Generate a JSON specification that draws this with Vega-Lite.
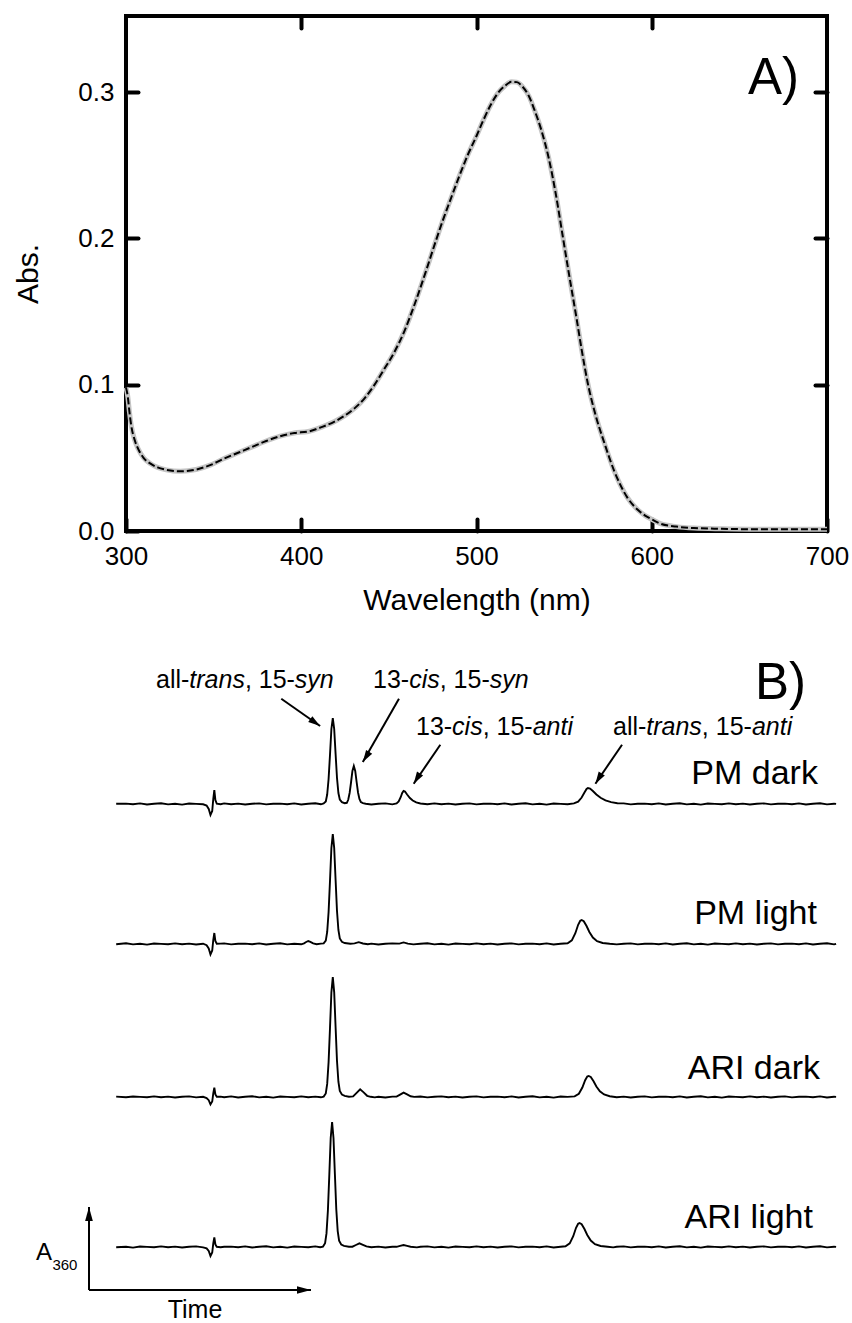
{
  "$schema": "https://vega.github.io/schema/vega-lite/v6.json",
  "padding": {"left": 11, "top": 12, "right": 0, "bottom": 0},
  "background": "white",
  "bounds": "flush",
  "spacing": 0,
  "config": {"font": "Liberation Sans", "view": {"stroke": null}},
  "datasets": {
    "spectrum": [
      {"nm":300,"abs":0.098},{"nm":301,"abs":0.092},{"nm":302,"abs":0.081},{"nm":303,"abs":0.072},{"nm":305,"abs":0.062},{"nm":307,"abs":0.056},{"nm":310,"abs":0.050},{"nm":314,"abs":0.046},{"nm":318,"abs":0.0435},{"nm":323,"abs":0.0418},{"nm":331,"abs":0.0408},{"nm":340,"abs":0.042},{"nm":348,"abs":0.045},{"nm":356,"abs":0.0495},{"nm":364,"abs":0.0535},{"nm":372,"abs":0.0575},{"nm":380,"abs":0.0615},{"nm":388,"abs":0.0648},{"nm":396,"abs":0.067},{"nm":404,"abs":0.068},{"nm":412,"abs":0.0712},{"nm":419,"abs":0.0748},{"nm":425,"abs":0.0790},{"nm":431,"abs":0.0845},{"nm":436,"abs":0.0905},{"nm":441,"abs":0.0985},{"nm":447,"abs":0.110},{"nm":453,"abs":0.122},{"nm":459,"abs":0.137},{"nm":465,"abs":0.156},{"nm":471,"abs":0.177},{"nm":477,"abs":0.199},{"nm":481,"abs":0.213},{"nm":485,"abs":0.226},{"nm":490,"abs":0.242},{"nm":495,"abs":0.257},{"nm":500,"abs":0.270},{"nm":504,"abs":0.281},{"nm":508,"abs":0.291},{"nm":512,"abs":0.299},{"nm":516,"abs":0.304},{"nm":520,"abs":0.307},{"nm":523,"abs":0.3068},{"nm":526,"abs":0.304},{"nm":530,"abs":0.297},{"nm":533,"abs":0.288},{"nm":537,"abs":0.274},{"nm":541,"abs":0.256},{"nm":545,"abs":0.232},{"nm":549,"abs":0.203},{"nm":553,"abs":0.174},{"nm":557,"abs":0.146},{"nm":560,"abs":0.124},{"nm":563.5,"abs":0.101},{"nm":568,"abs":0.079},{"nm":573,"abs":0.060},{"nm":578.6,"abs":0.041},{"nm":586,"abs":0.023},{"nm":592,"abs":0.0145},{"nm":596,"abs":0.0107},{"nm":600,"abs":0.008},{"nm":605,"abs":0.005},{"nm":614,"abs":0.003},{"nm":624,"abs":0.002},{"nm":640,"abs":0.0015},{"nm":660,"abs":0.0012},{"nm":700,"abs":0.0012}
    ],
    "pmdark": [
      {"t":-1.4,"a":0.2},{"t":0,"a":0.4},{"t":1,"a":-0.3},{"t":2,"a":0.6},{"t":3,"a":-0.5},{"t":4,"a":0.2},{"t":5,"a":0.7},{"t":6,"a":-0.4},{"t":7,"a":0.3},{"t":8,"a":-0.6},{"t":9,"a":0.5},{"t":10,"a":0.1},{"t":11,"a":-0.3},{"t":11.5,"a":-1.5},{"t":11.8,"a":-5},{"t":12.05,"a":-11},{"t":12.3,"a":-7},{"t":12.45,"a":5},{"t":12.6,"a":14},{"t":12.75,"a":4},{"t":12.95,"a":0.3},{"t":13.5,"a":-0.2},{"t":14,"a":0.6},{"t":15,"a":-0.2},{"t":16,"a":0.4},{"t":17,"a":-0.5},{"t":18,"a":0.3},{"t":19,"a":0.6},{"t":20,"a":-0.4},{"t":21,"a":0.2},{"t":22,"a":0.4},{"t":23,"a":-0.3},{"t":24,"a":0.6},{"t":25,"a":-0.5},{"t":26,"a":0.2},{"t":27,"a":0.7},{"t":27.8,"a":-0.3},{"t":28.2,"a":0.5},{"t":28.5,"a":2.5},{"t":28.7,"a":9.5},{"t":28.9,"a":25},{"t":29.1,"a":49},{"t":29.3,"a":75},{"t":29.5,"a":86},{"t":29.7,"a":75},{"t":29.9,"a":50},{"t":30.1,"a":26},{"t":30.3,"a":11},{"t":30.5,"a":4.5},{"t":30.8,"a":1.8},{"t":31.2,"a":0.8},{"t":31.5,"a":1.2},{"t":31.7,"a":4.2},{"t":31.9,"a":11},{"t":32.1,"a":21.5},{"t":32.3,"a":33},{"t":32.5,"a":38},{"t":32.7,"a":33},{"t":32.9,"a":22},{"t":33.1,"a":11.5},{"t":33.3,"a":5},{"t":33.5,"a":2},{"t":33.8,"a":0.8},{"t":34.2,"a":0.3},{"t":35,"a":-0.5},{"t":36,"a":0.3},{"t":37,"a":0.6},{"t":38,"a":-0.4},{"t":38.6,"a":0.6},{"t":38.9,"a":2.5},{"t":39.2,"a":7},{"t":39.4,"a":11},{"t":39.6,"a":13},{"t":39.8,"a":12.5},{"t":40.1,"a":9.5},{"t":40.5,"a":6},{"t":40.9,"a":3.5},{"t":41.4,"a":1.6},{"t":42,"a":0.5},{"t":43,"a":-0.3},{"t":44,"a":0.6},{"t":45,"a":-0.2},{"t":46,"a":0.4},{"t":47,"a":-0.5},{"t":48,"a":0.3},{"t":49,"a":0.6},{"t":50,"a":-0.4},{"t":51,"a":0.2},{"t":52,"a":0.4},{"t":53,"a":-0.3},{"t":54,"a":0.6},{"t":55,"a":-0.5},{"t":56,"a":0.2},{"t":57,"a":0.7},{"t":58,"a":-0.4},{"t":59,"a":0.3},{"t":60,"a":-0.6},{"t":61,"a":0.5},{"t":62,"a":0.1},{"t":63,"a":-0.3},{"t":63.9,"a":0.6},{"t":64.5,"a":2.4},{"t":65,"a":6.5},{"t":65.4,"a":11.5},{"t":65.7,"a":15},{"t":65.9,"a":16},{"t":66.2,"a":15.5},{"t":66.6,"a":13},{"t":67.1,"a":9.5},{"t":67.7,"a":6.2},{"t":68.4,"a":3.6},{"t":69.2,"a":1.8},{"t":70.1,"a":0.7},{"t":71,"a":0.6},{"t":72,"a":-0.4},{"t":73,"a":0.2},{"t":74,"a":0.4},{"t":75,"a":-0.3},{"t":76,"a":0.6},{"t":77,"a":-0.5},{"t":78,"a":0.2},{"t":79,"a":0.7},{"t":80,"a":-0.4},{"t":81,"a":0.3},{"t":82,"a":-0.6},{"t":83,"a":0.5},{"t":84,"a":0.1},{"t":85,"a":-0.3},{"t":86,"a":0.6},{"t":87,"a":-0.2},{"t":88,"a":0.4},{"t":89,"a":-0.5},{"t":90,"a":0.3},{"t":91,"a":0.6},{"t":92,"a":-0.4},{"t":93,"a":0.2},{"t":94,"a":0.4},{"t":95,"a":-0.3},{"t":96,"a":0.6},{"t":97,"a":-0.5},{"t":98,"a":0.2},{"t":99,"a":0.7},{"t":100,"a":-0.4},{"t":101,"a":0.3},{"t":101.3,"a":0.1}
    ],
    "pmlight": [
      {"t":-1.4,"a":-0.3},{"t":0,"a":0.7},{"t":1,"a":-0.4},{"t":2,"a":0.3},{"t":3,"a":-0.6},{"t":4,"a":0.5},{"t":5,"a":0.1},{"t":6,"a":-0.3},{"t":7,"a":0.6},{"t":8,"a":-0.2},{"t":9,"a":0.4},{"t":10,"a":-0.5},{"t":11,"a":0.3},{"t":11.5,"a":-1.2},{"t":11.8,"a":-4.5},{"t":12.05,"a":-10.5},{"t":12.3,"a":-6.5},{"t":12.45,"a":4},{"t":12.6,"a":11},{"t":12.75,"a":3},{"t":12.95,"a":0.2},{"t":13.5,"a":0.4},{"t":14,"a":0.6},{"t":15,"a":-0.4},{"t":16,"a":0.2},{"t":17,"a":0.4},{"t":18,"a":-0.3},{"t":19,"a":0.6},{"t":20,"a":-0.5},{"t":21,"a":0.2},{"t":22,"a":0.7},{"t":23,"a":-0.4},{"t":24,"a":0.3},{"t":25,"a":-0.3},{"t":25.4,"a":0.6},{"t":25.7,"a":2},{"t":26,"a":3},{"t":26.3,"a":2.2},{"t":26.7,"a":0.7},{"t":27.2,"a":-0.2},{"t":27.8,"a":0.4},{"t":28.2,"a":0.6},{"t":28.5,"a":3.3},{"t":28.7,"a":12},{"t":28.9,"a":32},{"t":29.1,"a":63},{"t":29.3,"a":96},{"t":29.5,"a":110},{"t":29.7,"a":96},{"t":29.9,"a":64},{"t":30.1,"a":33},{"t":30.3,"a":14},{"t":30.5,"a":5.5},{"t":30.8,"a":2.2},{"t":31.2,"a":1},{"t":32,"a":0.3},{"t":32.6,"a":0.6},{"t":33.2,"a":1.8},{"t":33.8,"a":0.5},{"t":34.5,"a":-0.3},{"t":35,"a":0.4},{"t":36,"a":-0.5},{"t":37,"a":0.3},{"t":38,"a":0.6},{"t":39,"a":0.4},{"t":39.6,"a":1.6},{"t":40.2,"a":0.4},{"t":41,"a":-0.4},{"t":42,"a":0.2},{"t":43,"a":0.7},{"t":44,"a":-0.4},{"t":45,"a":0.3},{"t":46,"a":-0.6},{"t":47,"a":0.5},{"t":48,"a":0.1},{"t":49,"a":-0.3},{"t":50,"a":0.6},{"t":51,"a":-0.2},{"t":52,"a":0.4},{"t":53,"a":-0.5},{"t":54,"a":0.3},{"t":55,"a":0.6},{"t":56,"a":-0.4},{"t":57,"a":0.2},{"t":58,"a":0.4},{"t":59,"a":-0.3},{"t":60,"a":0.6},{"t":61,"a":-0.5},{"t":62,"a":0.2},{"t":63,"a":0.7},{"t":63.6,"a":3.6},{"t":64.1,"a":10.8},{"t":64.5,"a":19.2},{"t":64.8,"a":23.3},{"t":65,"a":24},{"t":65.3,"a":22.8},{"t":65.7,"a":18},{"t":66.1,"a":12},{"t":66.6,"a":6.5},{"t":67.2,"a":2.9},{"t":68,"a":1},{"t":69,"a":0.2},{"t":70,"a":-0.4},{"t":71,"a":0.3},{"t":72,"a":0.6},{"t":73,"a":-0.4},{"t":74,"a":0.2},{"t":75,"a":0.4},{"t":76,"a":-0.3},{"t":77,"a":0.6},{"t":78,"a":-0.5},{"t":79,"a":0.2},{"t":80,"a":0.7},{"t":81,"a":-0.4},{"t":82,"a":0.3},{"t":83,"a":-0.6},{"t":84,"a":0.5},{"t":85,"a":0.1},{"t":86,"a":-0.3},{"t":87,"a":0.6},{"t":88,"a":-0.2},{"t":89,"a":0.4},{"t":90,"a":-0.5},{"t":91,"a":0.3},{"t":92,"a":0.6},{"t":93,"a":-0.4},{"t":94,"a":0.2},{"t":95,"a":0.4},{"t":96,"a":-0.3},{"t":97,"a":0.6},{"t":98,"a":-0.5},{"t":99,"a":0.2},{"t":100,"a":0.7},{"t":101,"a":-0.4},{"t":101.3,"a":0.2}
    ],
    "aridark": [
      {"t":-1.4,"a":0.4},{"t":0,"a":-0.2},{"t":1,"a":0.5},{"t":2,"a":0.1},{"t":3,"a":-0.3},{"t":4,"a":0.6},{"t":5,"a":-0.2},{"t":6,"a":0.4},{"t":7,"a":-0.5},{"t":8,"a":0.3},{"t":9,"a":0.6},{"t":10,"a":-0.4},{"t":11,"a":0.2},{"t":11.5,"a":-1},{"t":11.8,"a":-3.2},{"t":12.05,"a":-7.4},{"t":12.3,"a":-4.5},{"t":12.45,"a":3.5},{"t":12.6,"a":9.4},{"t":12.75,"a":2.5},{"t":12.95,"a":0.2},{"t":13.5,"a":0.4},{"t":14,"a":-0.3},{"t":15,"a":0.6},{"t":16,"a":-0.5},{"t":17,"a":0.2},{"t":18,"a":0.7},{"t":19,"a":-0.4},{"t":20,"a":0.3},{"t":21,"a":-0.6},{"t":22,"a":0.5},{"t":23,"a":0.1},{"t":24,"a":-0.3},{"t":25,"a":0.6},{"t":26,"a":-0.2},{"t":27,"a":0.4},{"t":27.8,"a":-0.3},{"t":28.2,"a":0.4},{"t":28.5,"a":3.6},{"t":28.7,"a":13.1},{"t":28.9,"a":34.9},{"t":29.1,"a":68.7},{"t":29.3,"a":104.7},{"t":29.5,"a":120},{"t":29.7,"a":104.7},{"t":29.9,"a":69.8},{"t":30.1,"a":36},{"t":30.3,"a":15.3},{"t":30.5,"a":6},{"t":30.8,"a":2.4},{"t":31.2,"a":1.1},{"t":31.8,"a":0.2},{"t":32.4,"a":0.6},{"t":32.9,"a":4.2},{"t":33.4,"a":7.7},{"t":33.9,"a":4.6},{"t":34.4,"a":1.2},{"t":34.9,"a":0.2},{"t":35.5,"a":-0.4},{"t":36,"a":0.3},{"t":37,"a":-0.5},{"t":38,"a":0.4},{"t":38.6,"a":0.35},{"t":39.1,"a":2.4},{"t":39.6,"a":4.4},{"t":40.1,"a":2.6},{"t":40.6,"a":0.7},{"t":41.1,"a":0.1},{"t":42,"a":0.5},{"t":43,"a":-0.4},{"t":44,"a":0.2},{"t":45,"a":0.6},{"t":46,"a":-0.3},{"t":47,"a":0.4},{"t":48,"a":-0.5},{"t":49,"a":0.3},{"t":50,"a":0.6},{"t":51,"a":-0.4},{"t":52,"a":0.2},{"t":53,"a":0.4},{"t":54,"a":-0.3},{"t":55,"a":0.6},{"t":56,"a":-0.5},{"t":57,"a":0.2},{"t":58,"a":0.7},{"t":59,"a":-0.4},{"t":60,"a":0.3},{"t":61,"a":-0.6},{"t":62,"a":0.5},{"t":63,"a":0.1},{"t":64,"a":0.6},{"t":64.6,"a":3.2},{"t":65.1,"a":9.5},{"t":65.5,"a":16.8},{"t":65.8,"a":20.4},{"t":66,"a":21},{"t":66.3,"a":20},{"t":66.7,"a":15.8},{"t":67.1,"a":10.5},{"t":67.6,"a":5.7},{"t":68.2,"a":2.5},{"t":69,"a":0.8},{"t":70,"a":-0.3},{"t":71,"a":0.4},{"t":72,"a":-0.5},{"t":73,"a":0.3},{"t":74,"a":0.6},{"t":75,"a":-0.4},{"t":76,"a":0.2},{"t":77,"a":0.4},{"t":78,"a":-0.3},{"t":79,"a":0.6},{"t":80,"a":-0.5},{"t":81,"a":0.2},{"t":82,"a":0.7},{"t":83,"a":-0.4},{"t":84,"a":0.3},{"t":85,"a":-0.6},{"t":86,"a":0.5},{"t":87,"a":0.1},{"t":88,"a":-0.3},{"t":89,"a":0.6},{"t":90,"a":-0.2},{"t":91,"a":0.4},{"t":92,"a":-0.5},{"t":93,"a":0.3},{"t":94,"a":0.6},{"t":95,"a":-0.4},{"t":96,"a":0.2},{"t":97,"a":0.4},{"t":98,"a":-0.3},{"t":99,"a":0.6},{"t":100,"a":-0.5},{"t":101,"a":0.2},{"t":101.3,"a":0.1}
    ],
    "arilight": [
      {"t":-1.4,"a":-0.2},{"t":0,"a":0.3},{"t":1,"a":-0.6},{"t":2,"a":0.5},{"t":3,"a":0.1},{"t":4,"a":-0.3},{"t":5,"a":0.6},{"t":6,"a":-0.2},{"t":7,"a":0.4},{"t":8,"a":-0.5},{"t":9,"a":0.3},{"t":10,"a":0.6},{"t":11,"a":-0.4},{"t":11.5,"a":-1.3},{"t":11.8,"a":-4},{"t":12.05,"a":-9},{"t":12.3,"a":-5.5},{"t":12.45,"a":3.5},{"t":12.6,"a":9.7},{"t":12.75,"a":2.6},{"t":12.95,"a":0.2},{"t":13.5,"a":-0.3},{"t":14,"a":0.2},{"t":15,"a":0.4},{"t":16,"a":-0.3},{"t":17,"a":0.6},{"t":18,"a":-0.5},{"t":19,"a":0.2},{"t":20,"a":0.7},{"t":21,"a":-0.4},{"t":22,"a":0.3},{"t":23,"a":-0.6},{"t":24,"a":0.5},{"t":25,"a":0.1},{"t":26,"a":-0.3},{"t":27,"a":0.6},{"t":27.7,"a":-0.2},{"t":28.1,"a":0.4},{"t":28.4,"a":3.75},{"t":28.6,"a":13.6},{"t":28.8,"a":36.3},{"t":29,"a":71.6},{"t":29.2,"a":109},{"t":29.4,"a":125},{"t":29.6,"a":109},{"t":29.8,"a":72.7},{"t":30,"a":37.5},{"t":30.2,"a":15.9},{"t":30.4,"a":6.3},{"t":30.7,"a":2.5},{"t":31.1,"a":1.1},{"t":31.8,"a":0.3},{"t":32.3,"a":0.3},{"t":32.8,"a":2},{"t":33.3,"a":3.7},{"t":33.8,"a":2.2},{"t":34.3,"a":0.6},{"t":35,"a":-0.3},{"t":36,"a":0.4},{"t":37,"a":-0.5},{"t":38,"a":0.3},{"t":38.6,"a":0.2},{"t":39.1,"a":1.1},{"t":39.6,"a":2},{"t":40.1,"a":1.2},{"t":40.6,"a":0.3},{"t":41.5,"a":-0.4},{"t":42,"a":0.2},{"t":43,"a":0.6},{"t":44,"a":-0.4},{"t":45,"a":0.3},{"t":46,"a":-0.6},{"t":47,"a":0.5},{"t":48,"a":0.1},{"t":49,"a":-0.3},{"t":50,"a":0.6},{"t":51,"a":-0.2},{"t":52,"a":0.4},{"t":53,"a":-0.5},{"t":54,"a":0.3},{"t":55,"a":0.6},{"t":56,"a":-0.4},{"t":57,"a":0.2},{"t":58,"a":0.4},{"t":59,"a":-0.3},{"t":60,"a":0.6},{"t":61,"a":-0.5},{"t":62,"a":0.2},{"t":62.7,"a":0.7},{"t":63.3,"a":3.6},{"t":63.8,"a":10.8},{"t":64.2,"a":19.2},{"t":64.5,"a":23.3},{"t":64.7,"a":24},{"t":65,"a":22.8},{"t":65.4,"a":18},{"t":65.8,"a":12},{"t":66.3,"a":6.5},{"t":66.9,"a":2.9},{"t":67.7,"a":1},{"t":68.7,"a":0.2},{"t":69.5,"a":-0.4},{"t":70,"a":0.3},{"t":71,"a":0.6},{"t":72,"a":-0.4},{"t":73,"a":0.2},{"t":74,"a":0.4},{"t":75,"a":-0.3},{"t":76,"a":0.6},{"t":77,"a":-0.5},{"t":78,"a":0.2},{"t":79,"a":0.7},{"t":80,"a":-0.4},{"t":81,"a":0.3},{"t":82,"a":-0.6},{"t":83,"a":0.5},{"t":84,"a":0.1},{"t":85,"a":-0.3},{"t":86,"a":0.6},{"t":87,"a":-0.2},{"t":88,"a":0.4},{"t":89,"a":-0.5},{"t":90,"a":0.3},{"t":91,"a":0.6},{"t":92,"a":-0.4},{"t":93,"a":0.2},{"t":94,"a":0.4},{"t":95,"a":-0.3},{"t":96,"a":0.6},{"t":97,"a":-0.5},{"t":98,"a":0.2},{"t":99,"a":0.7},{"t":100,"a":-0.4},{"t":101,"a":0.3},{"t":101.3,"a":0.1}
    ],
    "annRoman": [
      {"txt":"all-","t":4.28,"a":116},{"txt":", 15-","t":16.96,"a":116},{"txt":"13-","t":35.24,"a":116},{"txt":", 15-","t":44.75,"a":116},
      {"txt":"13-","t":41.37,"a":69},{"txt":", 15-","t":50.88,"a":69},{"txt":"all-","t":69.47,"a":69},{"txt":", 15-","t":82.15,"a":69}
    ],
    "annItalic": [
      {"txt":"trans","t":9.03,"a":116},{"txt":"syn","t":24.09,"a":116},{"txt":"cis","t":40.39,"a":116},{"txt":"syn","t":51.88,"a":116},
      {"txt":"cis","t":46.52,"a":69},{"txt":"anti","t":58.02,"a":69},{"txt":"trans","t":74.22,"a":69},{"txt":"anti","t":89.29,"a":69}
    ],
    "arrows": [
      {"id":1,"t1":22.15,"a1":105.3,"t2":27.69,"a2":78},
      {"id":2,"t1":38.94,"a1":105.3,"t2":33.78,"a2":42},
      {"id":3,"t1":44.84,"a1":59.3,"t2":41.04,"a2":20.3},
      {"id":4,"t1":70.76,"a1":59.3,"t2":66.96,"a2":20.3}
    ],
    "scalebar": [
      {"dir":"up","t1":-5.28,"a1":-43,"t2":-5.28,"a2":40},
      {"dir":"right","t1":-5.28,"a1":-43,"t2":26.39,"a2":-43}
    ]
  },
  "vconcat": [
    {
      "width": 701,
      "height": 515,
      "view": {"stroke": "black", "strokeWidth": 4},
      "layer": [
        {
          "data": {"name": "spectrum"},
          "mark": {"type": "line", "color": "#c4c4c4", "strokeWidth": 5, "interpolate": "monotone"},
          "encoding": {
            "x": {"field": "nm", "type": "quantitative", "scale": {"domain": [300, 700], "nice": false, "zero": false},
              "axis": {"orient": "bottom", "values": [300, 400, 500, 600, 700], "offset": -12, "tickSize": 12, "tickWidth": 4, "tickColor": "black", "tickCap": "round", "domain": false, "grid": false, "labelFontSize": 26, "labelPadding": 12, "labelColor": "black", "labelFlush": false, "labelOverlap": false, "title": "Wavelength (nm)", "titleFontSize": 30, "titleFontWeight": "normal", "titleColor": "black", "titlePadding": 16}},
            "y": {"field": "abs", "type": "quantitative", "scale": {"domain": [0, 0.352], "nice": false, "zero": false},
              "axis": {"orient": "left", "values": [0, 0.1, 0.2, 0.3], "format": ".1f", "offset": -12, "tickSize": 12, "tickWidth": 4, "tickColor": "black", "tickCap": "round", "domain": false, "grid": false, "labelFontSize": 26, "labelPadding": 12, "labelColor": "black", "labelFlush": false, "labelOverlap": false, "title": "Abs.", "titleFontSize": 30, "titleFontWeight": "normal", "titleColor": "black", "titlePadding": 34}}
          }
        },
        {
          "data": {"name": "spectrum"},
          "mark": {"type": "line", "color": "black", "strokeWidth": 2, "strokeDash": [7, 3], "interpolate": "monotone"},
          "encoding": {
            "x": {"field": "nm", "type": "quantitative",
              "axis": {"orient": "top", "values": [400, 500, 600], "offset": -12, "tickSize": 12, "tickWidth": 4, "tickColor": "black", "tickCap": "round", "domain": false, "grid": false, "labels": false, "title": null}},
            "y": {"field": "abs", "type": "quantitative",
              "axis": {"orient": "right", "values": [0.1, 0.2, 0.3], "offset": -12, "tickSize": 12, "tickWidth": 4, "tickColor": "black", "tickCap": "round", "domain": false, "grid": false, "labels": false, "title": null}}
          }
        },
        {
          "data": {"values": [{"label": "A)"}]},
          "mark": {"type": "text", "fontSize": 51, "align": "right", "baseline": "alphabetic", "color": "black"},
          "encoding": {
            "text": {"field": "label"},
            "x": {"datum": 684, "type": "quantitative", "axis": null},
            "y": {"datum": 0.299, "type": "quantitative", "axis": null}
          }
        }
      ],
      "resolve": {"axis": {"x": "independent", "y": "independent"}}
    },
    {
      "width": 701,
      "height": 343,
      "layer": [
        {
          "data": {"name": "pmdark"},
          "mark": {"type": "line", "color": "black", "strokeWidth": 1.9},
          "encoding": {
            "x": {"field": "t", "type": "quantitative", "scale": {"domain": [0, 100], "nice": false, "zero": false}, "axis": null},
            "y": {"field": "a", "type": "quantitative", "scale": {"domain": [-70, 273], "nice": false, "zero": false}, "axis": null}
          }
        },
        {
          "data": {"values": [{"label": "PM dark"}]},
          "mark": {"type": "text", "fontSize": 34, "align": "right", "baseline": "alphabetic", "color": "black"},
          "encoding": {"text": {"field": "label"}, "x": {"datum": 98.7, "type": "quantitative"}, "y": {"datum": 20.3, "type": "quantitative"}}
        },
        {
          "data": {"values": [{"label": "B)"}]},
          "mark": {"type": "text", "fontSize": 51, "align": "right", "baseline": "alphabetic", "color": "black"},
          "encoding": {"text": {"field": "label"}, "x": {"datum": 97, "type": "quantitative"}, "y": {"datum": 105, "type": "quantitative"}}
        },
        {
          "data": {"name": "annRoman"},
          "mark": {"type": "text", "fontSize": 25, "align": "left", "baseline": "alphabetic", "color": "black"},
          "encoding": {"x": {"field": "t", "type": "quantitative"}, "y": {"field": "a", "type": "quantitative"}, "text": {"field": "txt"}}
        },
        {
          "data": {"name": "annItalic"},
          "mark": {"type": "text", "fontSize": 25, "fontStyle": "italic", "align": "left", "baseline": "alphabetic", "color": "black"},
          "encoding": {"x": {"field": "t", "type": "quantitative"}, "y": {"field": "a", "type": "quantitative"}, "text": {"field": "txt"}}
        },
        {
          "data": {"name": "arrows"},
          "mark": {"type": "rule", "color": "black", "strokeWidth": 2},
          "encoding": {"x": {"field": "t1", "type": "quantitative"}, "y": {"field": "a1", "type": "quantitative"}, "x2": {"field": "t2"}, "y2": {"field": "a2"}}
        },
        {
          "data": {"name": "arrows"},
          "transform": [{"filter": "datum.id == 1"}],
          "mark": {"type": "point", "shape": "M0,0L0.6,2L-0.6,2Z", "filled": true, "color": "black", "opacity": 1, "size": 144, "angle": 125},
          "encoding": {"x": {"field": "t2", "type": "quantitative"}, "y": {"field": "a2", "type": "quantitative"}}
        },
        {
          "data": {"name": "arrows"},
          "transform": [{"filter": "datum.id != 1"}],
          "mark": {"type": "point", "shape": "M0,0L0.6,2L-0.6,2Z", "filled": true, "color": "black", "opacity": 1, "size": 144, "angle": 212},
          "encoding": {"x": {"field": "t2", "type": "quantitative"}, "y": {"field": "a2", "type": "quantitative"}}
        }
      ]
    },
    {
      "width": 701,
      "height": 148,
      "layer": [
        {
          "data": {"name": "pmlight"},
          "mark": {"type": "line", "color": "black", "strokeWidth": 1.9},
          "encoding": {
            "x": {"field": "t", "type": "quantitative", "scale": {"domain": [0, 100], "nice": false, "zero": false}, "axis": null},
            "y": {"field": "a", "type": "quantitative", "scale": {"domain": [-78, 70], "nice": false, "zero": false}, "axis": null}
          }
        },
        {
          "data": {"values": [{"label": "PM light"}]},
          "mark": {"type": "text", "fontSize": 34, "align": "right", "baseline": "alphabetic", "color": "black"},
          "encoding": {"text": {"field": "label"}, "x": {"datum": 98.57, "type": "quantitative"}, "y": {"datum": 20.3, "type": "quantitative"}}
        }
      ]
    },
    {
      "width": 701,
      "height": 150,
      "layer": [
        {
          "data": {"name": "aridark"},
          "mark": {"type": "line", "color": "black", "strokeWidth": 1.9},
          "encoding": {
            "x": {"field": "t", "type": "quantitative", "scale": {"domain": [0, 100], "nice": false, "zero": false}, "axis": null},
            "y": {"field": "a", "type": "quantitative", "scale": {"domain": [-75, 75], "nice": false, "zero": false}, "axis": null}
          }
        },
        {
          "data": {"values": [{"label": "ARI dark"}]},
          "mark": {"type": "text", "fontSize": 34, "align": "right", "baseline": "alphabetic", "color": "black"},
          "encoding": {"text": {"field": "label"}, "x": {"datum": 99, "type": "quantitative"}, "y": {"datum": 17.8, "type": "quantitative"}}
        }
      ]
    },
    {
      "width": 701,
      "height": 150,
      "layer": [
        {
          "data": {"name": "arilight"},
          "mark": {"type": "line", "color": "black", "strokeWidth": 1.9},
          "encoding": {
            "x": {"field": "t", "type": "quantitative", "scale": {"domain": [0, 100], "nice": false, "zero": false}, "axis": null},
            "y": {"field": "a", "type": "quantitative", "scale": {"domain": [-75, 75], "nice": false, "zero": false}, "axis": null}
          }
        },
        {
          "data": {"values": [{"label": "ARI light"}]},
          "mark": {"type": "text", "fontSize": 34, "align": "right", "baseline": "alphabetic", "color": "black"},
          "encoding": {"text": {"field": "label"}, "x": {"datum": 98, "type": "quantitative"}, "y": {"datum": 18.8, "type": "quantitative"}}
        },
        {
          "data": {"name": "scalebar"},
          "mark": {"type": "rule", "color": "black", "strokeWidth": 2},
          "encoding": {"x": {"field": "t1", "type": "quantitative"}, "y": {"field": "a1", "type": "quantitative"}, "x2": {"field": "t2"}, "y2": {"field": "a2"}}
        },
        {
          "data": {"name": "scalebar"},
          "transform": [{"filter": "datum.dir == 'up'"}],
          "mark": {"type": "point", "shape": "M0,0L0.55,2L-0.55,2Z", "filled": true, "color": "black", "opacity": 1, "size": 196, "angle": 0},
          "encoding": {"x": {"field": "t2", "type": "quantitative"}, "y": {"field": "a2", "type": "quantitative"}}
        },
        {
          "data": {"name": "scalebar"},
          "transform": [{"filter": "datum.dir == 'right'"}],
          "mark": {"type": "point", "shape": "M0,0L0.55,2L-0.55,2Z", "filled": true, "color": "black", "opacity": 1, "size": 196, "angle": 90},
          "encoding": {"x": {"field": "t2", "type": "quantitative"}, "y": {"field": "a2", "type": "quantitative"}}
        },
        {
          "data": {"values": [{"label": "A"}]},
          "mark": {"type": "text", "fontSize": 24, "align": "left", "baseline": "alphabetic", "color": "black"},
          "encoding": {"text": {"field": "label"}, "x": {"datum": -12.84, "type": "quantitative"}, "y": {"datum": -13, "type": "quantitative"}}
        },
        {
          "data": {"values": [{"label": "360"}]},
          "mark": {"type": "text", "fontSize": 15, "align": "left", "baseline": "alphabetic", "color": "black"},
          "encoding": {"text": {"field": "label"}, "x": {"datum": -10.5, "type": "quantitative"}, "y": {"datum": -23, "type": "quantitative"}}
        },
        {
          "data": {"values": [{"label": "Time"}]},
          "mark": {"type": "text", "fontSize": 25, "align": "center", "baseline": "alphabetic", "color": "black"},
          "encoding": {"text": {"field": "label"}, "x": {"datum": 9.84, "type": "quantitative"}, "y": {"datum": -71, "type": "quantitative"}}
        }
      ]
    }
  ]
}
